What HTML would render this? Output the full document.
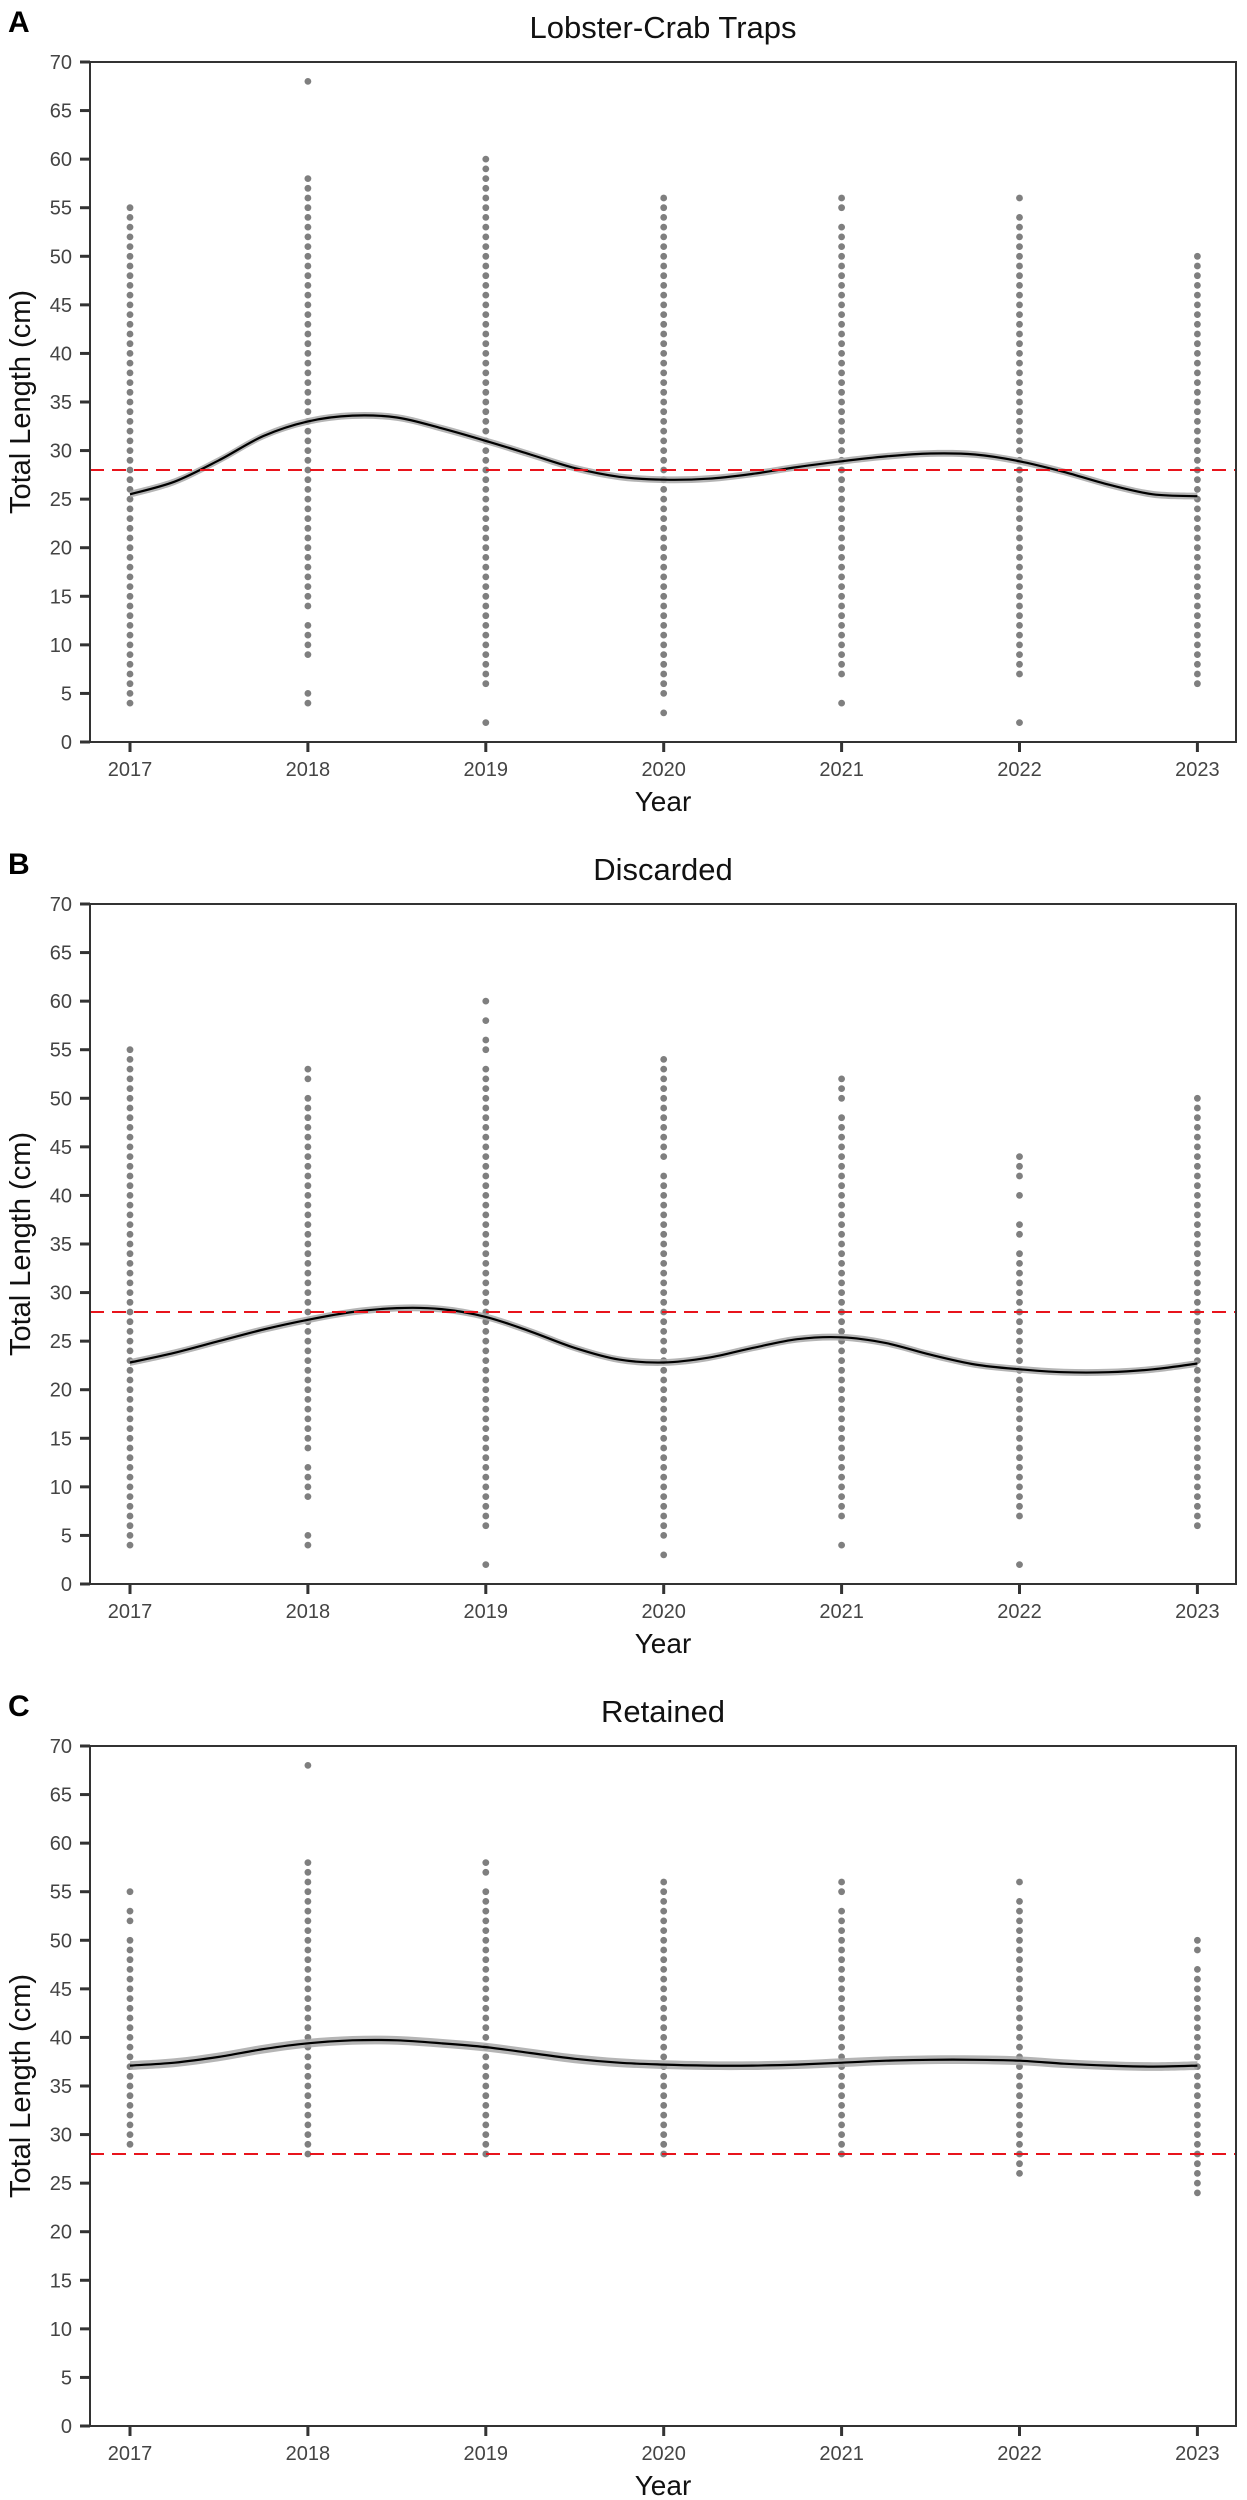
<!DOCTYPE html>
<html><head><meta charset="utf-8">
<style>
html,body{margin:0;padding:0;background:#fff;}
svg{display:block;font-family:"Liberation Sans",Arial,sans-serif;}
</style></head>
<body>
<svg id="fig" width="1247" height="2500" viewBox="0 0 1247 2500" xmlns="http://www.w3.org/2000/svg"></svg>
<script>
// ---- data ----
const years = [2017,2018,2019,2020,2021,2022,2023];
const yTicks = [0,5,10,15,20,25,30,35,40,45,50,55,60,65,70];
const panelLetters = ["A","B","C"];
const panelTitles = ["Lobster-Crab Traps","Discarded","Retained"];
const threshold = 28;
// point values per year, as [lo,hi] runs of integer lengths
const aRuns = [
  [[4,55]],
  [[4,5],[9,12],[14,58],[68,68]],
  [[2,2],[6,60]],
  [[3,3],[5,56]],
  [[4,4],[7,53],[55,56]],
  [[2,2],[7,54],[56,56]],
  [[6,50]]
];
const bRuns = [
  [[4,55]],
  [[4,5],[9,12],[14,50],[52,53]],
  [[2,2],[6,53],[55,56],[58,58],[60,60]],
  [[3,3],[5,42],[44,54]],
  [[4,4],[7,48],[50,52]],
  [[2,2],[7,34],[36,37],[40,40],[42,44]],
  [[6,50]]
];
const cRuns = [
  [[29,50],[52,53],[55,55]],
  [[28,58],[68,68]],
  [[28,55],[57,58]],
  [[28,56]],
  [[28,53],[55,56]],
  [[26,54],[56,56]],
  [[24,47],[49,50]]
];
// smooth trend, sampled every quarter year from 2017 to 2023
const aSmooth = [25.5,26.8,29.0,31.5,33.0,33.6,33.4,32.3,31.0,29.6,28.2,27.3,27.0,27.1,27.6,28.3,28.9,29.4,29.7,29.6,28.9,27.8,26.5,25.5,25.3];
const bSmooth = [22.8,23.8,25.0,26.2,27.2,28.0,28.4,28.3,27.5,26.0,24.3,23.1,22.8,23.3,24.3,25.2,25.4,24.8,23.6,22.6,22.1,21.8,21.8,22.1,22.7];
const cSmooth = [37.1,37.4,38.0,38.8,39.4,39.7,39.7,39.4,39.0,38.4,37.8,37.4,37.2,37.1,37.1,37.2,37.4,37.6,37.7,37.7,37.6,37.3,37.1,37.0,37.1];
const ribbonHalf = [0.35,0.35,0.45];

const allRuns=[aRuns,bRuns,cRuns];
const allSmooth=[aSmooth,bSmooth,cSmooth];

const NS="http://www.w3.org/2000/svg";
const svg=document.getElementById('fig');
function mk(tag,attrs,parent){const e=document.createElementNS(NS,tag);for(const k in attrs)e.setAttribute(k,attrs[k]);(parent||svg).appendChild(e);return e;}

const L=90,R=1236,X0=130,XSTEP=177.9;
function xs(yr){return X0+(yr-2017)*XSTEP;}

function smoothPath(pts){
  let d="M"+pts[0][0].toFixed(1)+","+pts[0][1].toFixed(1);
  for(let i=0;i<pts.length-1;i++){
    const p0=pts[Math.max(0,i-1)],p1=pts[i],p2=pts[i+1],p3=pts[Math.min(pts.length-1,i+2)];
    const c1x=p1[0]+(p2[0]-p0[0])/6,c1y=p1[1]+(p2[1]-p0[1])/6;
    const c2x=p2[0]-(p3[0]-p1[0])/6,c2y=p2[1]-(p3[1]-p1[1])/6;
    d+=" C"+c1x.toFixed(1)+","+c1y.toFixed(1)+" "+c2x.toFixed(1)+","+c2y.toFixed(1)+" "+p2[0].toFixed(1)+","+p2[1].toFixed(1);
  }
  return d;
}

for(let p=0;p<3;p++){
  const off=p*842;
  const T=62+off,B=742+off;
  const ys=v=>B-(v/70)*(B-T);
  const g=mk('g',{});
  
  

  const lt=mk('text',{x:8,y:32+off,'font-size':30,'font-weight':'bold',fill:'#000'},g);
  lt.textContent=panelLetters[p];
  
  

  const tt=mk('text',{x:(L+R)/2,y:38+off,'font-size':31,'text-anchor':'middle',fill:'#111'},g);
  tt.textContent=panelTitles[p];
  
  

  // points
  const pg=mk('g',{fill:'#7f7f7f'},g);
  
  
  allRuns[p].forEach((runs,i)=>{
    runs.forEach(r=>{
      for(let v=r[0];v<=r[1];v++){
        const c=mk('circle',{cx:xs(years[i]),cy:ys(v).toFixed(1),r:3.4},pg);
        
        
      }
    });
  });

  // ribbon + trend
  const sm=allSmooth[p];
  const up=sm.map((v,i)=>[xs(2017+i*0.25),ys(v+ribbonHalf[p])]);
  const lo=sm.map((v,i)=>[xs(2017+i*0.25),ys(v-ribbonHalf[p])]);
  const mid=sm.map((v,i)=>[xs(2017+i*0.25),ys(v)]);
  const rib=mk('path',{d:smoothPath(up)+" L"+smoothPath(lo.slice().reverse()).slice(1)+" Z",fill:'#a8a8a8','fill-opacity':0.85,stroke:'none'},g);
  
  
  const ln=mk('path',{d:smoothPath(mid),fill:'none',stroke:'#000','stroke-width':2.2},g);
  
  

  // threshold
  const th=mk('line',{x1:L,x2:R,y1:ys(threshold),y2:ys(threshold),stroke:'#e8141c','stroke-width':2,'stroke-dasharray':'14,8'},g);
  
  

  // frame
  const fr=mk('rect',{x:L,y:T,width:R-L,height:B-T,fill:'none',stroke:'#333','stroke-width':2},g);
  
  

  // y ticks
  yTicks.forEach(v=>{
    const y=ys(v);
    mk('line',{x1:80,x2:L,y1:y,y2:y,stroke:'#333','stroke-width':3},g);
    const t=mk('text',{x:72,y:y+7,'font-size':20,'text-anchor':'end',fill:'#444'},g);
    t.textContent=v;
    
    
  });
  // x ticks
  years.forEach(yr=>{
    const x=xs(yr);
    mk('line',{x1:x,x2:x,y1:B,y2:B+10,stroke:'#333','stroke-width':3},g);
    const t=mk('text',{x:x,y:B+34,'font-size':20,'text-anchor':'middle',fill:'#444'},g);
    t.textContent=yr;
    
    
  });
  const xt=mk('text',{x:(L+R)/2,y:B+69,'font-size':28,'text-anchor':'middle',fill:'#111'},g);
  xt.textContent='Year';
  
  
  const cy=(T+B)/2;
  const yt=mk('text',{x:0,y:0,'font-size':29,'text-anchor':'middle',fill:'#111',transform:'translate(30,'+cy+') rotate(-90)'},g);
  yt.textContent='Total Length (cm)';
  
  
}
</script>
</body></html>
